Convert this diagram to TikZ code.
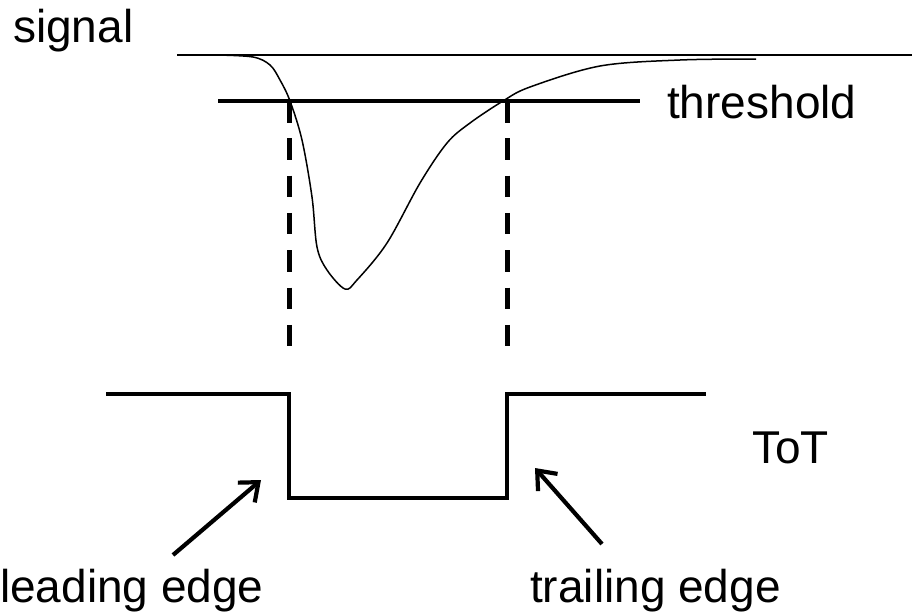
\documentclass[tikz,border=0pt]{standalone}
\usepackage{fontspec}
\setmainfont{Liberation Sans}
\usetikzlibrary{arrows.meta}
\tikzset{
  lbl/.style={anchor=base west, inner sep=0pt, font=\fontsize{46}{50}\selectfont},
  baseln/.style={line width=2pt},
  thrln/.style={line width=4pt},
  dashln/.style={line width=5pt, dash pattern=on 21.5pt off 15.8pt},
  pulse/.style={line width=4pt, line join=miter},
  sig/.style={line width=1.5pt},
  pointer/.style={line width=4.2pt, -{Straight Barb[length=16pt,width=26pt,line width=4.2pt]}}
}
\begin{document}
\begin{tikzpicture}[x=1pt,y=-1pt]
\useasboundingbox (0,0) rectangle (912,614);
% labels
\node[lbl] (signal) at (13,42) {signal};
\node[lbl] (threshold) at (667,118) {threshold};
\node[lbl] (tot) at (752,463) {ToT};
\node[lbl] (leading) at (0,602) {leading edge};
\node[lbl] (trailing) at (530,602) {trailing edge};
% reference lines
\coordinate (b0) at (177,55);
\coordinate (b1) at (912,55);
\coordinate (t0) at (218,101);
\coordinate (t1) at (640,101);
\draw[baseln] (b0) -- (b1);
\draw[thrln] (t0) -- (t1);
% signal
\draw[sig] plot[smooth, tension=0.55] coordinates {
 (217,55) (253,57) (270,65) (280,80) (290,101) (302,140) (312,197) (317,247)
 (327,270) (345,289) (357,280) (387,243) (420,183) (447,143) (470,123)
 (503,101) (530,87) (600,66) (680,60) (756,59)};
% dashed markers
\coordinate (d1a) at (289,101);
\coordinate (d1b) at (289,347);
\coordinate (d2a) at (507,101);
\coordinate (d2b) at (507,347);
\draw[dashln] (d1a) -- (d1b);
\draw[dashln] (d2a) -- (d2b);
% ToT pulse
\coordinate (p0) at (106,394);
\coordinate (p1) at (289,394);
\coordinate (p2) at (289,498);
\coordinate (p3) at (507,498);
\coordinate (p4) at (507,394);
\coordinate (p5) at (706,394);
\draw[pulse] (p0) -- (p1) -- (p2) -- (p3) -- (p4) -- (p5);
% pointers
\coordinate (la) at (173,555);
\coordinate (lt) at (261,480);
\coordinate (ta) at (602,544);
\coordinate (tt) at (535,468);
\draw[pointer] (la) -- (lt);
\draw[pointer] (ta) -- (tt);
\end{tikzpicture}
\end{document}
